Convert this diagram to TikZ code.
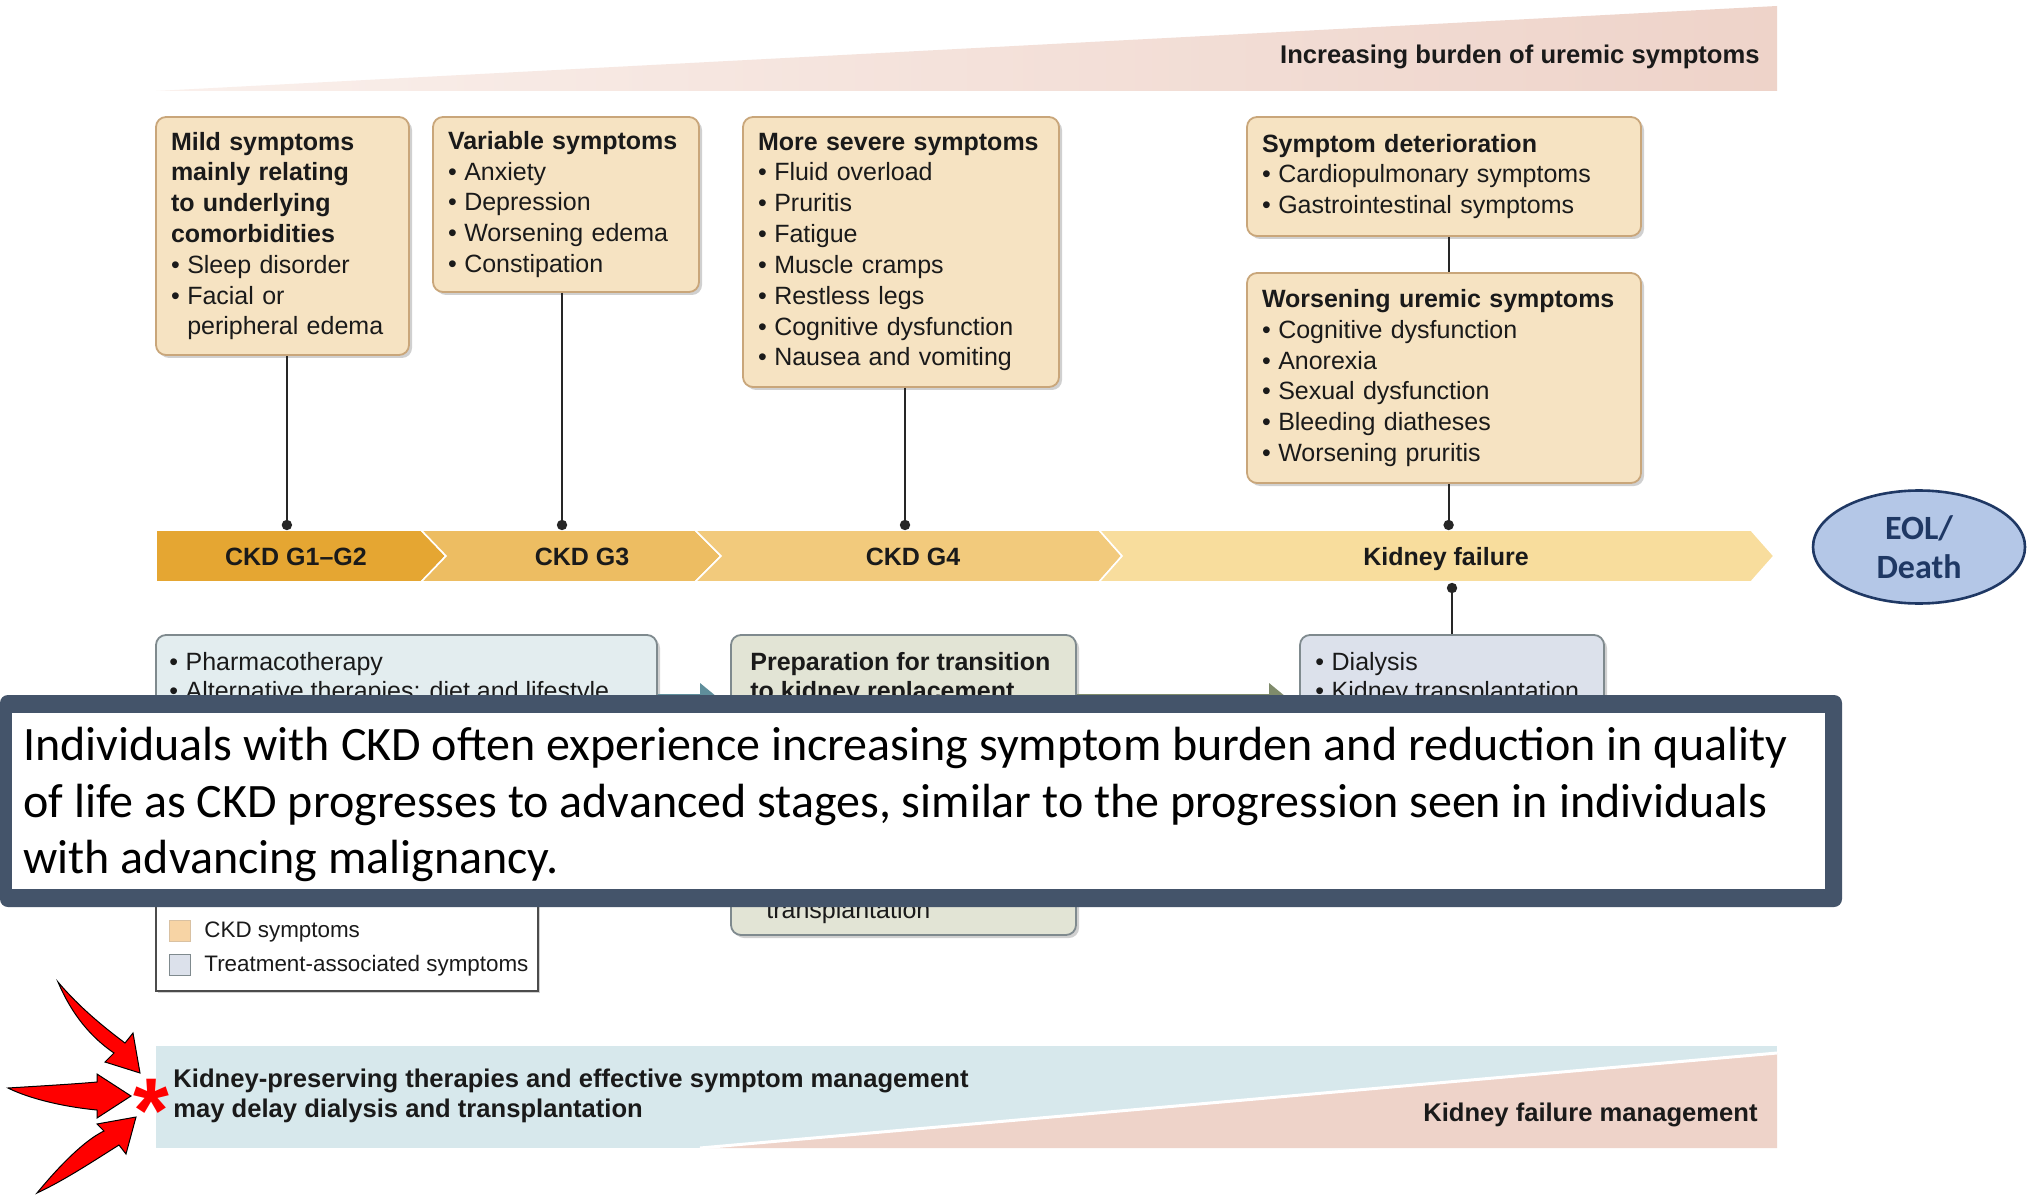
\documentclass[tikz,border=0pt]{standalone}
\usepackage{fontspec}
\setmainfont{Liberation Sans}
\newfontfamily\calib{Carlito}
\usetikzlibrary{shadows,arrows.meta,calc,shapes.geometric}
\definecolor{tanfill}{HTML}{F6E3C2}
\definecolor{tanline}{HTML}{C9A67A}
\definecolor{segA}{HTML}{E5A632}
\definecolor{segB}{HTML}{EDBD62}
\definecolor{segC}{HTML}{F2CA7C}
\definecolor{segD}{HTML}{F8DD9D}
\definecolor{pinkw}{HTML}{EED3C9}
\definecolor{pinkl}{HTML}{FAF0EC}
\definecolor{blueband}{HTML}{D7E8EC}
\definecolor{pharmfill}{HTML}{E3EDEF}
\definecolor{prepfill}{HTML}{E2E4D5}
\definecolor{dialfill}{HTML}{DCE1EB}
\definecolor{boxline}{HTML}{7F8A8E}
\definecolor{slate}{HTML}{44546A}
\definecolor{eolfill}{HTML}{B4C7E7}
\definecolor{navy}{HTML}{1F3864}
\definecolor{tealar}{HTML}{5F8E9B}
\definecolor{olivear}{HTML}{7F8B6B}
\definecolor{txt}{HTML}{1A1A1A}
\newcommand{\itm}{•\hspace{0.3em}}
\newcommand{\hang}{\phantom{•}\hspace{0.3em}}
\begin{document}
\begin{tikzpicture}[x=0.5pt,y=-0.5pt,
  symbox/.style={draw=tanline, fill=tanfill, line width=0.9pt, rounded corners=5pt,
    align=left, inner xsep=7.5pt, inner ysep=0pt, text=txt,
    font=\fontsize{12.5}{15.4}\selectfont,
    drop shadow={shadow xshift=1.5pt,shadow yshift=-1.5pt,opacity=0.3,fill=black!60}},
  lowbox/.style={draw=boxline, line width=0.9pt, rounded corners=5pt, inner sep=0pt,
    drop shadow={shadow xshift=1.5pt,shadow yshift=-1.5pt,opacity=0.3,fill=black!60}},
  dtxt/.style={inner sep=0pt, text=txt, font=\fontsize{12.5}{15.4}\selectfont},
  btxt/.style={inner sep=0pt, text=txt, font=\bfseries\fontsize{12.5}{15.4}\selectfont},
  bandtxt/.style={inner sep=0pt, text=txt, font=\bfseries\fontsize{12.8}{15.4}\selectfont},
  conn/.style={draw=black!85, line width=0.9pt},
  redarrow/.style={fill=red, draw=black, line width=0.5pt},
  captxt/.style={anchor=base west, inner sep=0pt, font=\calib\fontsize{24}{28.3}\selectfont}
]
\useasboundingbox (0,0) rectangle (2037,1197);
\fill[white] (0,0) rectangle (2037,1197);

% top wedge
\shade[left color=pinkl, right color=pinkw] (156,91) -- (1777,6) -- (1777,91) -- cycle;
\node[bandtxt, anchor=base east] (toplbl) at (1760,64) {Increasing burden of uremic symptoms};

% symptom boxes
\node[symbox, minimum width=126.5pt, minimum height=119pt, text width=111.5pt] (b1) at (282.5,236)
 {\textbf{Mild symptoms}\\\textbf{mainly relating}\\\textbf{to underlying}\\\textbf{comorbidities}\\\itm Sleep disorder\\\itm Facial or\\\hang peripheral edema};
\node[symbox, minimum width=133pt, minimum height=87.5pt, text width=118pt] (b2) at (566,204.5)
 {\textbf{Variable symptoms}\\\itm Anxiety\\\itm Depression\\\itm Worsening edema\\\itm Constipation};
\node[symbox, minimum width=158pt, minimum height=135pt, text width=143pt] (b3) at (901,252)
 {\textbf{More severe symptoms}\\\itm Fluid overload\\\itm Pruritis\\\itm Fatigue\\\itm Muscle cramps\\\itm Restless legs\\\itm Cognitive dysfunction\\\itm Nausea and vomiting};
\node[symbox, minimum width=197pt, minimum height=59.5pt, text width=182pt] (b4) at (1444,176.5)
 {\textbf{Symptom deterioration}\\\itm Cardiopulmonary symptoms\\\itm Gastrointestinal symptoms};
\node[symbox, minimum width=197pt, minimum height=105pt, text width=182pt] (b5) at (1444,378)
 {\textbf{Worsening uremic symptoms}\\\itm Cognitive dysfunction\\\itm Anorexia\\\itm Sexual dysfunction\\\itm Bleeding diatheses\\\itm Worsening pruritis};

% stage band
\fill[segA, draw=white, line width=0.8pt] (156,530) -- (421,530) -- (446,556) -- (421,582) -- (156,582) -- cycle;
\fill[segB, draw=white, line width=0.8pt] (421,530) -- (695,530) -- (721,556) -- (695,582) -- (421,582) -- (446,556) -- cycle;
\fill[segC, draw=white, line width=0.8pt] (695,530) -- (1099,530) -- (1122,556) -- (1099,582) -- (695,582) -- (721,556) -- cycle;
\fill[segD, draw=white, line width=0.8pt] (1099,530) -- (1751,530) -- (1774,556) -- (1751,582) -- (1099,582) -- (1122,556) -- cycle;
\node[btxt, anchor=base] (g12) at (296,565) {CKD G1–G2};
\node[btxt, anchor=base] (g3) at (582,565) {CKD G3};
\node[btxt, anchor=base] (g4) at (913,565) {CKD G4};
\node[btxt, anchor=base] (kf) at (1446,565) {Kidney failure};

\coordinate (bt) at (0,525);
\coordinate (bb) at (0,588);
\coordinate (arow) at (0,706);

\coordinate (c1) at ([xshift=2.2pt]b1.south);
\coordinate (c2) at ([xshift=-2pt]b2.south);
\coordinate (c3) at ([xshift=2pt]b3.south);
\coordinate (c4) at ([xshift=2.3pt]b4.south);
\coordinate (c5) at ([xshift=2.3pt]b5.north);
\coordinate (c6) at ([xshift=2.3pt]b5.south);
\draw[conn] (c1) -- (c1 |- bt);
\draw[conn] (c2) -- (c2 |- bt);
\draw[conn] (c3) -- (c3 |- bt);
\draw[conn] (c4) -- (c5);
\draw[conn] (c6) -- (c6 |- bt);
\foreach \n in {c1,c2,c3,c6} \fill[black!85] (\n |- bt) circle[radius=2.6pt];

% lower boxes
\node[lowbox, fill=pharmfill, minimum width=250.5pt, minimum height=117.5pt] (pharm) at (406.5,752.5) {};
\node[lowbox, fill=prepfill, minimum width=172.5pt, minimum height=150pt] (prep) at (903.5,785) {};
\node[lowbox, fill=dialfill, minimum width=152pt, minimum height=117.5pt] (dial) at (1452,752.5) {};
\draw[conn] (dial.north) -- (dial.north |- bb);
\fill[black!85] (dial.north |- bb) circle[radius=2.6pt];

\draw[tealar, line width=12pt, -{Triangle[width=22pt,length=14pt]}] (pharm.east |- arow) -- ([xshift=-1pt]prep.west |- arow);
\draw[olivear, line width=12pt, -{Triangle[width=22pt,length=14pt]}] (prep.east |- arow) -- ([xshift=-1pt]dial.west |- arow);

\node[dtxt, anchor=base west] (ph1) at (169,670) {\itm Pharmacotherapy};
\node[dtxt, anchor=base west] (ph2) at (169,699) {\itm Alternative therapies: diet and lifestyle};
\node[btxt, anchor=base west] (pr1) at (750,670) {Preparation for transition};
\node[btxt, anchor=base west] (pr2) at (750,699) {to kidney replacement};
\node[dtxt, anchor=base west] (pr3) at (766,918) {transplantation};
\node[dtxt, anchor=base west] (di1) at (1315,670) {\itm Dialysis};
\node[dtxt, anchor=base west] (di2) at (1315,699) {\itm Kidney transplantation};

% legend
\node[draw=black!70, line width=0.9pt, fill=white, minimum width=191pt, minimum height=55.5pt, inner sep=0pt,
  drop shadow={shadow xshift=1pt,shadow yshift=-1pt,opacity=0.3,fill=black!60}] (legend) at (347,935.5) {};
\node[draw=tanline!70, fill=tanfill!85!orange, minimum size=10.5pt, inner sep=0pt] (lgsq1) at (180,931) {};
\node[draw=boxline, fill=dialfill, minimum size=10.5pt, inner sep=0pt] (lgsq2) at (180,965) {};
\node[inner sep=0pt, anchor=base west, text=txt, font=\fontsize{11.2}{13}\selectfont] (lgt1) at (204,937) {CKD symptoms};
\node[inner sep=0pt, anchor=base west, text=txt, font=\fontsize{11.2}{13}\selectfont] (lgt2) at (204,971) {Treatment-associated symptoms};

% bottom band
\fill[blueband] (156,1046) rectangle (1777,1148);
\fill[pinkw] (700,1148) -- (1777,1053) -- (1777,1148) -- cycle;
\draw[white, line width=1.5pt] (700,1148) -- (1777,1053);
\node[bandtxt, anchor=base west] (kp1) at (173,1087) {Kidney-preserving therapies and effective symptom management};
\node[bandtxt, anchor=base west] (kp2) at (173,1117) {may delay dialysis and transplantation};
\node[bandtxt, anchor=base east] (kfm) at (1758,1121) {Kidney failure management};

% EOL ellipse
\node[ellipse, draw=navy, line width=1.3pt, fill=eolfill, minimum width=106pt, minimum height=56.5pt,
  align=center, text=navy, font=\calib\bfseries\fontsize{17}{19.5}\selectfont] (eol) at (1919,547) {EOL/\\Death};

% red arrows and asterisk
\filldraw[redarrow] (58,982) .. controls (75,1022) and (98,1042) .. (114,1053) -- (105,1062) -- (140,1073) -- (133,1033) -- (125,1043) .. controls (105,1028) and (80,1008) .. cycle;
\filldraw[redarrow] (8,1088) .. controls (40,1086) and (75,1084) .. (97,1082) -- (97,1074) -- (131,1096) -- (97,1118) -- (97,1110) .. controls (65,1107) and (30,1099) .. cycle;
\filldraw[redarrow] (37,1193) .. controls (60,1165) and (85,1140) .. (104,1131) -- (97,1124) -- (136,1117) -- (126,1154) -- (119,1145) .. controls (95,1160) and (65,1180) .. cycle;
\node[text=red, inner sep=0pt, font=\bfseries\fontsize{46}{46}\selectfont] (ast) at (151,1111) {*};

% caption overlay
\fill[slate, rounded corners=4pt] (0,695) rectangle (1842,907);
\fill[white] (12,713) rectangle (1825,889);
\node[captxt] (cap1) at (23,760) {Individuals with CKD often experience increasing symptom burden and reduction in quality};
\node[captxt] (cap2) at (23,817) {of life as CKD progresses to advanced stages, similar to the progression seen in individuals};
\node[captxt] (cap3) at (23,873) {with advancing malignancy.};
\end{tikzpicture}
\end{document}
